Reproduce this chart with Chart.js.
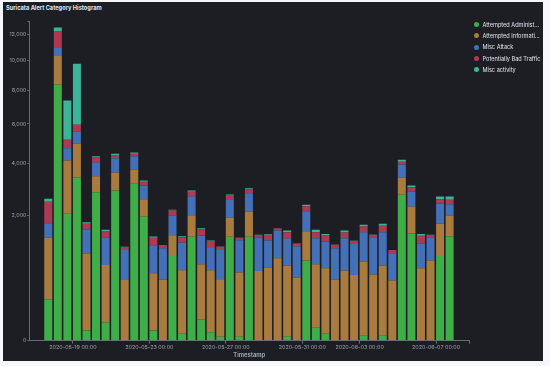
<!DOCTYPE html>
<html>
<head>
<meta charset="utf-8">
<script src="https://cdn.jsdelivr.net/npm/chart.js@4.4.1/dist/chart.umd.min.js"></script>
<style>
  body { margin: 0; background: #f5f7fa; font-family: Inter, "Noto Sans", sans-serif; }
  #panel { position: absolute; left: 3px; top: 2px; width: 540px; height: 359px; background: #1d1e24; }
  #title { position: absolute; left: 6px; top: 4px; font-size: 5.7px; font-weight: 700; color: #dfe5ef; }
  #chart { position: absolute; left: 0; top: 0; }
  #legend { position: absolute; left: 474px; top: 19px; }
  .item { height: 11.3px; font-size: 5.6px; color: #dfe5ef; display: flex; align-items: center; white-space: nowrap; }
  .dot { width: 5px; height: 5px; border-radius: 50%; margin-right: 3.5px; }
</style>
</head>
<body>
<div id="panel"></div>
<div id="title">Suricata Alert Category Histogram</div>
<canvas id="chart" width="550" height="366"></canvas>
<div id="legend"></div>
<script>
// 12h buckets
const buckets = [
  '2020-05-17 12:00', '2020-05-18 00:00', '2020-05-18 12:00', '2020-05-19 00:00', '2020-05-19 12:00',
  '2020-05-20 00:00', '2020-05-20 12:00', '2020-05-21 00:00', '2020-05-21 12:00', '2020-05-22 00:00',
  '2020-05-22 12:00', '2020-05-23 00:00', '2020-05-23 12:00', '2020-05-24 00:00', '2020-05-24 12:00',
  '2020-05-25 00:00', '2020-05-25 12:00', '2020-05-26 00:00', '2020-05-26 12:00', '2020-05-27 00:00',
  '2020-05-27 12:00', '2020-05-28 00:00', '2020-05-28 12:00', '2020-05-29 00:00', '2020-05-29 12:00',
  '2020-05-30 00:00', '2020-05-30 12:00', '2020-05-31 00:00', '2020-05-31 12:00', '2020-06-01 00:00',
  '2020-06-01 12:00', '2020-06-02 00:00', '2020-06-02 12:00', '2020-06-03 00:00', '2020-06-03 12:00',
  '2020-06-04 00:00', '2020-06-04 12:00', '2020-06-05 00:00', '2020-06-05 12:00', '2020-06-06 00:00',
  '2020-06-06 12:00', '2020-06-07 00:00', '2020-06-07 12:00'
]

const adminGain = [218, 8369, 2055, 3401, 13, 2815, 43, 2880, 0, 3143, 1959, 13, 0, 940, 6, 1377, 58, 9, 2, 1377,
  2, 1377, 0, 0, 0, 2, 0, 819, 23, 6, 0, 0, 0, 3, 0, 3, 0, 2717, 1466, 0, 0, 918, 1393]
const infoLeak = [1132, 1978, 2092, 1567, 956, 640, 690, 720, 472, 600, 597, 567, 476, 479, 627, 633, 687, 624, 479, 550,
  590, 753, 622, 682, 867, 718, 508, 710, 722, 663, 476, 627, 553, 796, 558, 717, 461, 671, 832, 669, 819, 825, 607]
const miscAttack = [411, 590, 587, 607, 608, 615, 617, 654, 581, 605, 519, 583, 615, 581, 596, 655, 658, 467, 572, 629,
  696, 647, 736, 598, 682, 620, 630, 611, 595, 586, 615, 713, 644, 702, 808, 781, 514, 577, 544, 535, 547, 649, 378]
const badTraffic = [702, 1262, 422, 380, 166, 217, 171, 127, 66, 114, 149, 187, 76, 167, 137, 165, 183, 170, 73, 158,
  57, 153, 68, 152, 60, 161, 70, 169, 161, 156, 84, 153, 78, 163, 68, 183, 74, 123, 166, 199, 60, 164, 156]
const miscActivity = [107, 318, 2217, 3846, 49, 61, 48, 81, 5, 62, 53, 35, 5, 20, 27, 50, 28, 10, 5, 15,
  5, 39, 4, 25, 5, 48, 4, 48, 68, 46, 5, 56, 5, 50, 4, 59, 4, 92, 67, 54, 4, 98, 120]

const seriesNames = ['Attempted Administ...', 'Attempted Informati...', 'Misc Attack', 'Potentially Bad Traffic', 'Misc activity']
const seriesColors = ['#3fae49', '#a97b3f', '#4470b7', '#ae3a52', '#3bb498']

const yTicks = [0, 2000, 4000, 6000, 8000, 10000, 12000]
const xTickLabels = ['2020-05-19 00:00', '2020-05-23 00:00', '2020-05-27 00:00', '2020-05-31 00:00', '2020-06-03 00:00', '2020-06-07 00:00']

const toMs = (s) => Date.parse(s.replace(' ', 'T') + ':00Z')
const origin = toMs(buckets[0])
const toHours = (s) => (toMs(s) - origin) / 3600000
const pad = (n) => String(n).padStart(2, '0')
const fmtHours = (h) => {
  const d = new Date(origin + h * 3600000)
  return d.getUTCFullYear() + '-' + pad(d.getUTCMonth() + 1) + '-' + pad(d.getUTCDate()) + ' ' + pad(d.getUTCHours()) + ':' + pad(d.getUTCMinutes())
}

// square-root value axis
class SqrtScale extends Chart.LinearScale {
  static id = 'sqrt'
  static defaults = {}
  getPixelForValue(value) {
    const lo = Math.sqrt(this.min), hi = Math.sqrt(this.max)
    return this.getPixelForDecimal((Math.sqrt(Math.max(value, 0)) - lo) / (hi - lo))
  }
  getValueForPixel(pixel) {
    const lo = Math.sqrt(this.min), hi = Math.sqrt(this.max)
    const r = lo + this.getDecimalForPixel(pixel) * (hi - lo)
    return r * r
  }
}
Chart.register(SqrtScale)

const xMin = -18.8, xMax = 533.7, yMax = 13050
const barShift = 5 // bars start at the bucket start

const allSeries = [adminGain, infoLeak, miscAttack, badTraffic, miscActivity]
const datasets = allSeries.map((vals, i) => ({
  label: seriesNames[i],
  data: vals.map((v, j) => ({ x: toHours(buckets[j]) + barShift, y: v })),
  backgroundColor: seriesColors[i],
  borderWidth: 0,
  barPercentage: 0.837,
  categoryPercentage: 1.0,
}))

const axisColor = '#646a76'
const labelColor = '#98a2b3'
const tickFont = { family: 'Inter', size: 5.4 }

const noPad = (s) => { s.paddingLeft = 0; s.paddingRight = 0; s.paddingTop = 0; s.paddingBottom = 0 }

new Chart(document.getElementById('chart'), {
  type: 'bar',
  data: { datasets: datasets },
  options: {
    responsive: false,
    animation: false,
    devicePixelRatio: 1,
    layout: { padding: { left: 0, top: 21, right: 80.7, bottom: 0 } },
    plugins: { legend: { display: false }, tooltip: { enabled: false } },
    scales: {
      x: {
        type: 'linear',
        stacked: true,
        offset: false,
        min: xMin,
        max: xMax,
        afterFit: (s) => { s.height = 25.3; noPad(s) },
        afterBuildTicks: (s) => {
          s.ticks = xTickLabels.map((t) => ({ value: toHours(t) })).concat([{ value: xMax }])
        },
        grid: { display: true, offset: false, drawOnChartArea: false, drawTicks: true, tickLength: 3, color: axisColor },
        border: { display: true, color: axisColor },
        ticks: {
          autoSkip: false, maxRotation: 0, padding: 0.5, color: labelColor, font: tickFont,
          callback: (v) => (v === xMax ? '' : fmtHours(v)),
        },
        title: {
          display: true, text: 'Timestamp', color: '#98a2b3',
          font: { family: 'Inter', size: 5.8, weight: 'bold' },
          padding: { top: 0, bottom: 7.4 },
        },
      },
      y: {
        type: 'sqrt',
        stacked: true,
        min: 0,
        max: yMax,
        afterFit: (s) => { s.width = 29.3; noPad(s) },
        afterBuildTicks: (s) => {
          s.ticks = yTicks.map((v) => ({ value: v })).concat([{ value: yMax }])
        },
        grid: { display: true, drawOnChartArea: false, drawTicks: true, tickLength: 2, color: axisColor },
        border: { display: true, color: axisColor },
        ticks: {
          padding: 0.8, color: labelColor, font: tickFont,
          callback: (v) => (v === yMax ? '' : v.toLocaleString('en-US')),
        },
      },
    },
  },
})

const legend = document.getElementById('legend')
seriesNames.forEach((name, i) => {
  const row = document.createElement('div')
  row.className = 'item'
  row.innerHTML = '<span class="dot" style="background:' + seriesColors[i] + '"></span>' + name
  legend.appendChild(row)
})
</script>
</body>
</html>
